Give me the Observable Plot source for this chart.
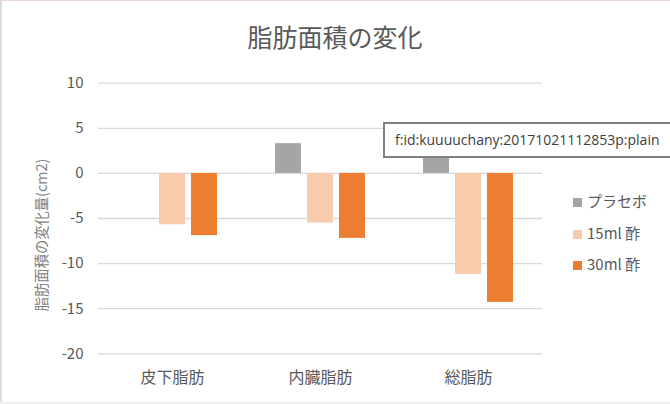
<!DOCTYPE html>
<html>
<head>
<meta charset="utf-8">
<script src="https://cdn.jsdelivr.net/npm/d3@7"></script>
<script src="https://cdn.jsdelivr.net/npm/@observablehq/plot@0.6"></script>
<style>
  html, body { margin: 0; padding: 0; background: #fff; }
  #wrap { position: relative; width: 670px; height: 404px; overflow: hidden; background: #fff;
    font-family: "Noto Sans CJK JP", "Noto Sans", sans-serif; }
  #title { position: absolute; left: 0; top: 20px; width: 670px; height: 32px; line-height: 32px;
    text-align: center; font-size: 25px; color: #595959; }
  #chart { position: absolute; left: 0; top: 60px; }
  #ylabel { position: absolute; left: 40px; top: 235px; transform: translate(-50%, -50%) rotate(-90deg);
    white-space: nowrap; font-size: 14.3px; color: #7f7f7f; }
  .leg { position: absolute; left: 573px; height: 20px; line-height: 20px; font-size: 15px; color: #595959; white-space: nowrap; }
  .leg span.sw { display: inline-block; width: 9px; height: 9px; margin-right: 5px; vertical-align: 0px; }
  #note { position: absolute; left: 383px; top: 122px; width: 300px; height: 32px; line-height: 32px;
    border: 2px solid #7f7f7f; background: #fff; font-family: "Open Sans", "Noto Sans", sans-serif;
    font-size: 14px; color: #404040; padding-left: 10px; box-sizing: content-box; }
  #bt { position: absolute; left: 0; top: 0; width: 670px; height: 1px; background: #ecd6de; }
  #bl { position: absolute; left: 0; top: 0; width: 2px; height: 404px; background: #dcdcdc; }
  #bb { position: absolute; left: 0; top: 402px; width: 670px; height: 2px; background: #eeeeee; }
</style>
</head>
<body>
<div id="wrap">
  <div id="title"></div>
  <div id="chart"></div>
  <div id="ylabel"></div>
  <div id="legend"></div>
  <div id="note"></div>
  <div id="bt"></div><div id="bl"></div><div id="bb"></div>
</div>
<script>
const title = "脂肪面積の変化";
const yLabel = "脂肪面積の変化量(cm2)";
const categories = ["皮下脂肪", "内臓脂肪", "総脂肪"];
const seriesNames = ["プラセボ", "15ml 酢", "30ml 酢"];
const seriesColors = ["#A5A5A5", "#F8CBAD", "#ED7D31"];
const placebo = [0, 3.3, 3.3];
const vinegar15 = [-5.7, -5.5, -11.2];
const vinegar30 = [-6.9, -7.2, -14.3];
const yTicks = [-20, -15, -10, -5, 0, 5, 10];
const noteText = "f:id:kuuuuchany:20171021112853p:plain";

const seriesValues = [placebo, vinegar15, vinegar30];
const data = [];
categories.forEach((c, i) => {
  seriesNames.forEach((s, j) => data.push({category: c, series: s, value: seriesValues[j][i]}));
});

document.getElementById("title").textContent = title;
document.getElementById("ylabel").textContent = yLabel;
document.getElementById("note").textContent = noteText;

const legendRowsY = [191, 222.7, 254.3];
const legend = document.getElementById("legend");
seriesNames.forEach((s, j) => {
  const d = document.createElement("div");
  d.className = "leg";
  d.style.top = legendRowsY[j] + "px";
  const sw = document.createElement("span");
  sw.className = "sw";
  sw.style.background = seriesColors[j];
  d.appendChild(sw);
  d.appendChild(document.createTextNode(s));
  legend.appendChild(d);
});

const plot = Plot.plot({
  width: 670,
  height: 344,
  marginLeft: 126,
  marginRight: 155,
  marginTop: 22.7,
  marginBottom: 50.7,
  style: {fontFamily: '"Noto Sans CJK JP", "Noto Sans", sans-serif', color: "#595959", background: "transparent"},
  fx: {domain: categories, paddingInner: 0.377, paddingOuter: 0, label: null},
  x: {domain: seriesNames, paddingInner: 0.2, paddingOuter: 0, axis: null},
  y: {domain: [-20, 10], label: null},
  color: {domain: seriesNames, range: seriesColors},
  marks: [
    Plot.ruleY(yTicks, {stroke: "#d9d9d9", strokeWidth: 1.3, insetLeft: -28.2, insetRight: -28.2}),
    Plot.barY(data, {fx: "category", x: "series", y: "value", fill: "series"}),
    Plot.axisY({ticks: yTicks, tickFormat: (d) => String(d), tickSize: 0, tickPadding: 43, fontSize: 15, label: null, stroke: "none"}),
    Plot.axisFx({anchor: "bottom", tickSize: 0, tickPadding: 18, fontSize: 16, label: null})
  ]
});
document.getElementById("chart").appendChild(plot);
</script>
</body>
</html>
